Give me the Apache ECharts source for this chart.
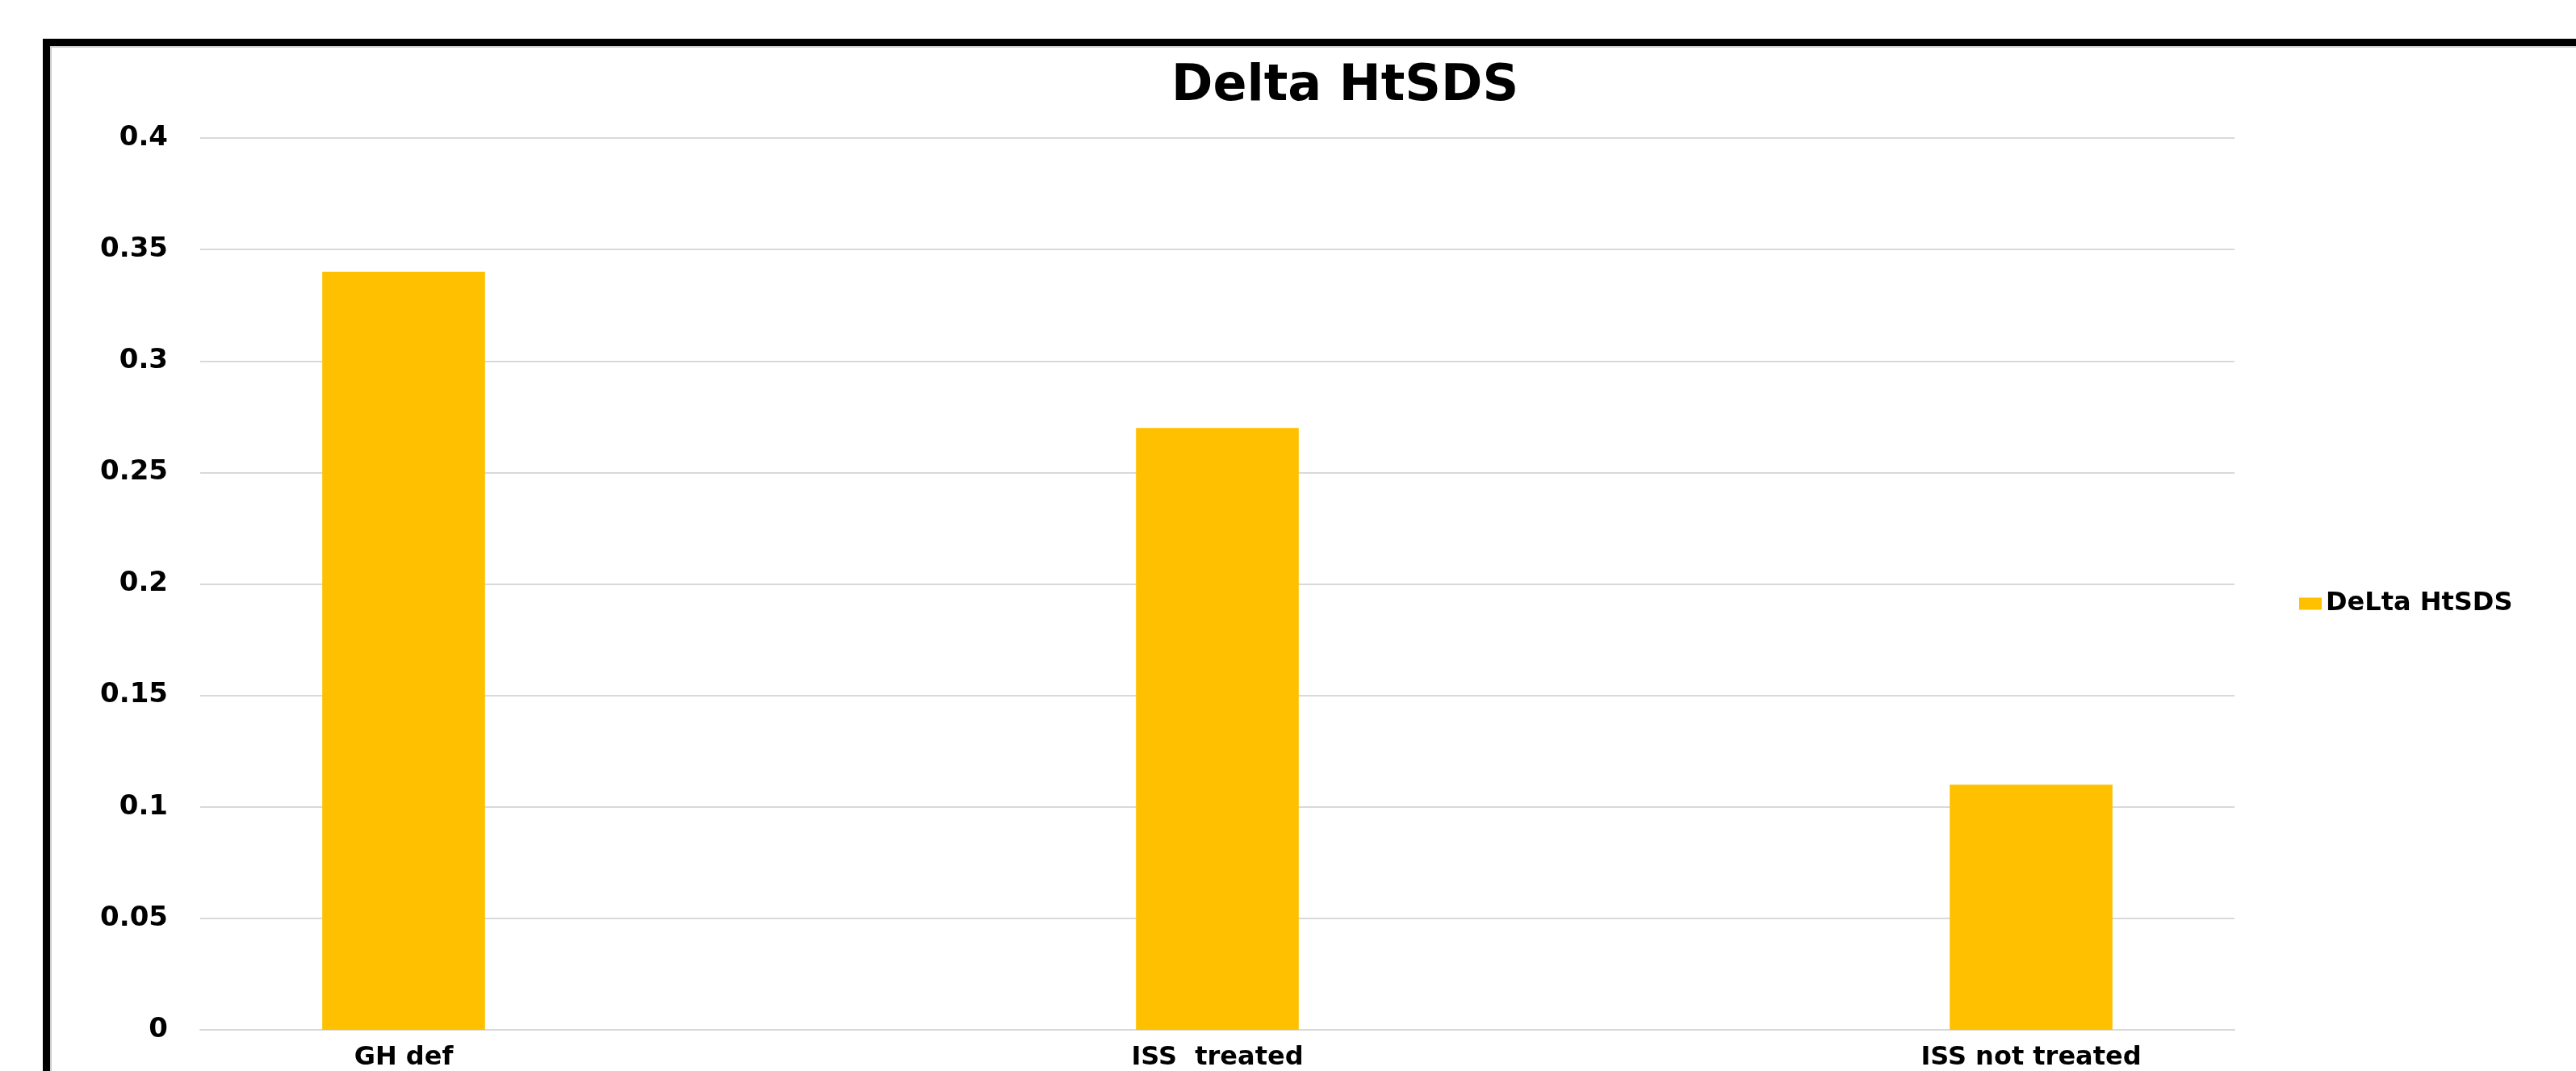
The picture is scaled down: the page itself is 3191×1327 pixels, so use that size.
<!DOCTYPE html>
<html>
<head>
<meta charset="utf-8">
<title>Delta HtSDS</title>
<script src="https://cdn.jsdelivr.net/npm/echarts@6/dist/echarts.min.js"></script>
<style>
  html, body { margin: 0; padding: 0; background: #fff; }
  #main { width: 3191px; height: 1327px; }
</style>
</head>
<body>
<div id="main"></div>
<script>
// empty slots between the groups are kept as blank categories, like in the original sheet
var categories = ["GH def", "", "ISS  treated", "", "ISS not treated"];
var deltaHtSDS = [0.34, null, 0.27, null, 0.11];
var seriesName = "DeLta HtSDS";
var chartTitle = "Delta HtSDS";

var myChart = echarts.init(document.getElementById("main"));

var font = "'DejaVu Sans', 'Liberation Sans', Arial, sans-serif";

var option = {
  backgroundColor: "#ffffff",
  animation: false,
  title: {
    text: chartTitle,
    left: 1661,
    top: 72,
    textAlign: "center",
    textStyle: {
      fontFamily: font,
      fontWeight: "bold",
      fontSize: 62,
      color: "#000000",
    },
  },
  legend: {
    data: [seriesName],
    left: 2843,
    top: 727,
    icon: "rect",
    itemWidth: 28,
    itemHeight: 15,
    itemGap: 10,
    textStyle: {
      fontFamily: font,
      fontWeight: "bold",
      fontSize: 32,
      color: "#000000",
    },
  },
  grid: {
    left: 248,
    right: 423,
    top: 171,
    bottom: 49,
  },
  xAxis: {
    type: "category",
    data: categories,
    axisLine: { lineStyle: { color: "#d9d9d9", width: 2 } },
    axisTick: { show: false },
    axisLabel: {
      interval: 0,
      margin: 19,
      fontFamily: font,
      fontWeight: "bold",
      fontSize: 32,
      color: "#000000",
    },
  },
  yAxis: {
    type: "value",
    min: 0,
    max: 0.4,
    interval: 0.05,
    axisLine: { show: false },
    axisTick: { show: false },
    splitLine: { lineStyle: { color: "#d9d9d9", width: 2 } },
    axisLabel: {
      margin: 40,
      fontFamily: font,
      fontWeight: "bold",
      fontSize: 34,
      color: "#000000",
      formatter: function (v) {
        return String(+v.toFixed(2));
      },
    },
  },
  series: [
    {
      name: seriesName,
      type: "bar",
      barWidth: "40%",
      data: deltaHtSDS,
      itemStyle: { color: "#ffc000" },
    },
  ],
  graphic: [
    // thick frame on top and left, the rest runs off the picture
    {
      type: "rect",
      silent: true,
      shape: { x: 57.5, y: 52.5, width: 4000, height: 4000 },
      style: { fill: null, stroke: "#000000", lineWidth: 9 },
    },
    {
      type: "rect",
      silent: true,
      shape: { x: 63, y: 58, width: 4000, height: 4000 },
      style: { fill: null, stroke: "#cccccc", lineWidth: 2 },
    },
  ],
};

myChart.setOption(option);
</script>
</body>
</html>
